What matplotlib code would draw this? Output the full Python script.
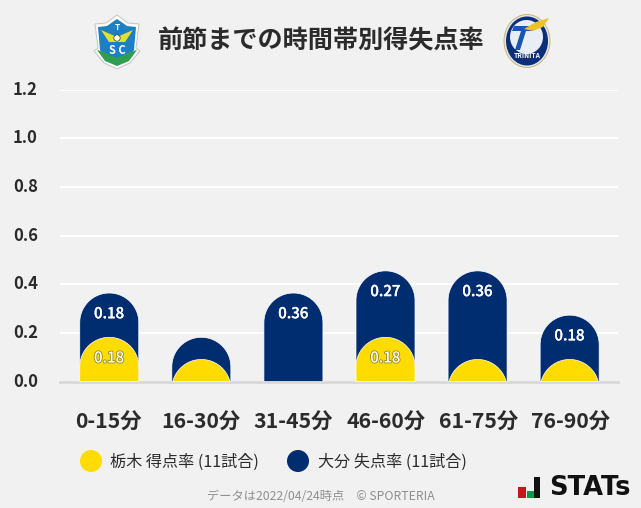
import numpy as np
import matplotlib
matplotlib.use('Agg')
import matplotlib.pyplot as plt
from matplotlib.patches import Polygon, Circle, Ellipse, Rectangle
import matplotlib.patheffects as pe

plt.rcParams['font.family'] = ['Noto Sans CJK JP', 'DejaVu Sans']

categories = ['0-15分', '16-30分', '31-45分', '46-60分', '61-75分', '76-90分']
tochigi = [0.182, 0.091, 0.0, 0.182, 0.091, 0.091]
oita = [0.182, 0.091, 0.364, 0.273, 0.364, 0.182]
tochigi_labels = ['0.18', '', '', '0.18', '', '']
oita_labels = ['0.18', '', '0.36', '0.27', '0.36', '0.18']
yticks = [0.0, 0.2, 0.4, 0.6, 0.8, 1.0, 1.2]

YELLOW = '#ffdc00'
NAVY = '#002c70'
BG = '#f1f1f1'
DARK = '#2b2b2b'

W, H = 641, 508
fig = plt.figure(figsize=(W / 100, H / 100), dpi=100, facecolor=BG)

# chart area in pixels: x 60-618, y 90-382
ax = fig.add_axes([60 / W, 1 - 381.6 / H, 558 / W, 292 / H], facecolor='none')
ax.set_xlim(-0.535, 5.525)
ax.set_ylim(0, 1.2)
for s in ax.spines.values():
    s.set_visible(False)
ax.set_yticks(yticks)
ax.set_yticklabels(['%.1f' % v for v in yticks], fontsize=12, fontweight='bold', color=DARK, va='center')

# px -> data
sx = 558 / 6.06
sy = 292 / 1.2
half = 29.5 / sx
rad = 29.5 / sy

# labels sit on a slightly wider spacing than the bars
ax.set_xticks([(108 + 92.6 * i - 60) / sx - 0.535 for i in range(6)])
ax.set_xticklabels(categories, fontsize=15.3, fontweight='bold', color=DARK)
ax.tick_params(length=0)
ax.tick_params(axis='y', pad=16)
ax.tick_params(axis='x', pad=22)
ax.grid(axis='y', color='white', lw=1.5, zorder=0)
ax.set_axisbelow(True)
ax.axhline(0, color='#d8d8d8', lw=2, zorder=1, clip_on=False)


def dome(x, top, color, z):
    # bar with a round top, cut off at the baseline
    t = np.linspace(np.pi, 0, 60)
    xs = x + half * np.cos(t)
    ys = top - rad + rad * np.sin(t)
    keep = ys >= 0
    xs, ys = xs[keep], ys[keep]
    pts = [(xs[0], 0)] + list(zip(xs, ys)) + [(xs[-1], 0)]
    ax.add_patch(Polygon(pts, closed=True, fc=color, ec='white', lw=0.5, zorder=z))


for i in range(6):
    total = tochigi[i] + oita[i]
    dome(i, total, NAVY, 2)
    if tochigi[i] > 0:
        dome(i, tochigi[i], YELLOW, 3)
    if oita_labels[i]:
        t = ax.text(i, total - 0.085, oita_labels[i], color='white', fontsize=10.8, fontweight='medium',
                    ha='center', va='center', zorder=5)
        t.set_path_effects([pe.withStroke(linewidth=0.2, foreground='white')])
    if tochigi_labels[i]:
        t = ax.text(i, tochigi[i] - 0.085, tochigi_labels[i], color='white', fontsize=10.8,
                    fontweight='medium', ha='center', va='center', zorder=5)
        t.set_path_effects([pe.withStroke(linewidth=1.2, foreground='#6e6420', alpha=0.7)])

# overlay in pixel coordinates for title, legend, logos
ov = fig.add_axes([0, 0, 1, 1], facecolor='none')
ov.set_xlim(0, W)
ov.set_ylim(H, 0)
ov.axis('off')

ov.text(321, 41, '前節までの時間帯別得失点率', fontsize=18.1, fontweight='bold', color=DARK,
        ha='center', va='center')

# legend
ov.add_patch(Ellipse((91, 461), 22, 22, fc=YELLOW, ec='none'))
ov.text(110, 462, '栃木 得点率 (11試合)', fontsize=11.6, color=DARK, va='center')
ov.add_patch(Ellipse((298, 461), 22, 22, fc=NAVY, ec='none'))
ov.text(318, 462, '大分 失点率 (11試合)', fontsize=11.6, color=DARK, va='center')

# footer
ov.text(320.5, 497, 'データは2022/04/24時点　© SPORTERIA', fontsize=8.8, color='#8f8f8f',
        ha='center', va='center')

# STATs mark
ov.add_patch(Rectangle((518, 487), 8, 11, fc='#c8161d', ec='none'))
ov.add_patch(Rectangle((527, 491), 7, 7, fc='#0a9a4a', ec='none'))
ov.add_patch(Rectangle((534, 477), 6, 21, fc='#111111', ec='none'))
ov.text(549, 488, 'STATs', fontsize=18.5, fontweight='bold', color='#111111', va='center',
        family='DejaVu Sans')

# Tochigi crest
shield = [(95, 24), (106, 23), (117, 15), (128, 23), (139, 24), (136, 48), (140, 51), (130, 63), (117, 69),
          (104, 63), (94, 51), (98, 48)]
ov.add_patch(Polygon(shield, closed=True, fc='white', ec='#c8c8c8', lw=0.8))
inner = [(98, 27), (107, 26), (117, 19), (127, 26), (136, 27), (134, 50), (128, 58), (117, 63),
         (106, 58), (100, 50)]
ov.add_patch(Polygon(inner, closed=True, fc='#1f7fc4', ec='none'))
band = [(97, 50), (104, 52), (117, 58), (130, 52), (137, 50), (129, 61), (117, 66), (105, 61)]
ov.add_patch(Polygon(band, closed=True, fc='#2f9f4f', ec='none'))
ov.add_patch(Polygon([(101, 30), (117, 37), (133, 30), (125, 42), (109, 42)], closed=True, fc='#dfe030', ec='none'))
ov.add_patch(Circle((117, 38), 3.2, fc='white', ec='#333333', lw=0.5))
ov.text(117, 27, 'T', fontsize=6, color='white', fontweight='bold', ha='center', va='center')
ov.text(117, 50, 'S C', fontsize=8, color='white', fontweight='bold', ha='center', va='center')

# Oita crest
ov.add_patch(Ellipse((527, 41), 46, 53, fc='#dfe6ee', ec='#c8b060', lw=0.6))
ov.add_patch(Ellipse((527, 41), 42, 49, fc='#0c2f78', ec='none'))
ov.add_patch(Ellipse((526.5, 37), 33, 34, fc='#e8eef6', ec='none'))
ov.add_patch(Polygon([(514, 26), (536, 26), (533, 31), (526, 31), (520, 50), (515, 50), (521, 31), (512, 31)],
                     closed=True, fc='#1a56b0', ec='none'))
ov.add_patch(Polygon([(524, 29), (536, 22), (549, 18), (543, 27), (533, 31)], closed=True, fc='#eec22a', ec='none'))
ov.text(527, 56, 'TRINITA', fontsize=4.8, color='white', fontweight='bold', ha='center', va='center')

fig.savefig('out.png', dpi=100, facecolor=BG)
